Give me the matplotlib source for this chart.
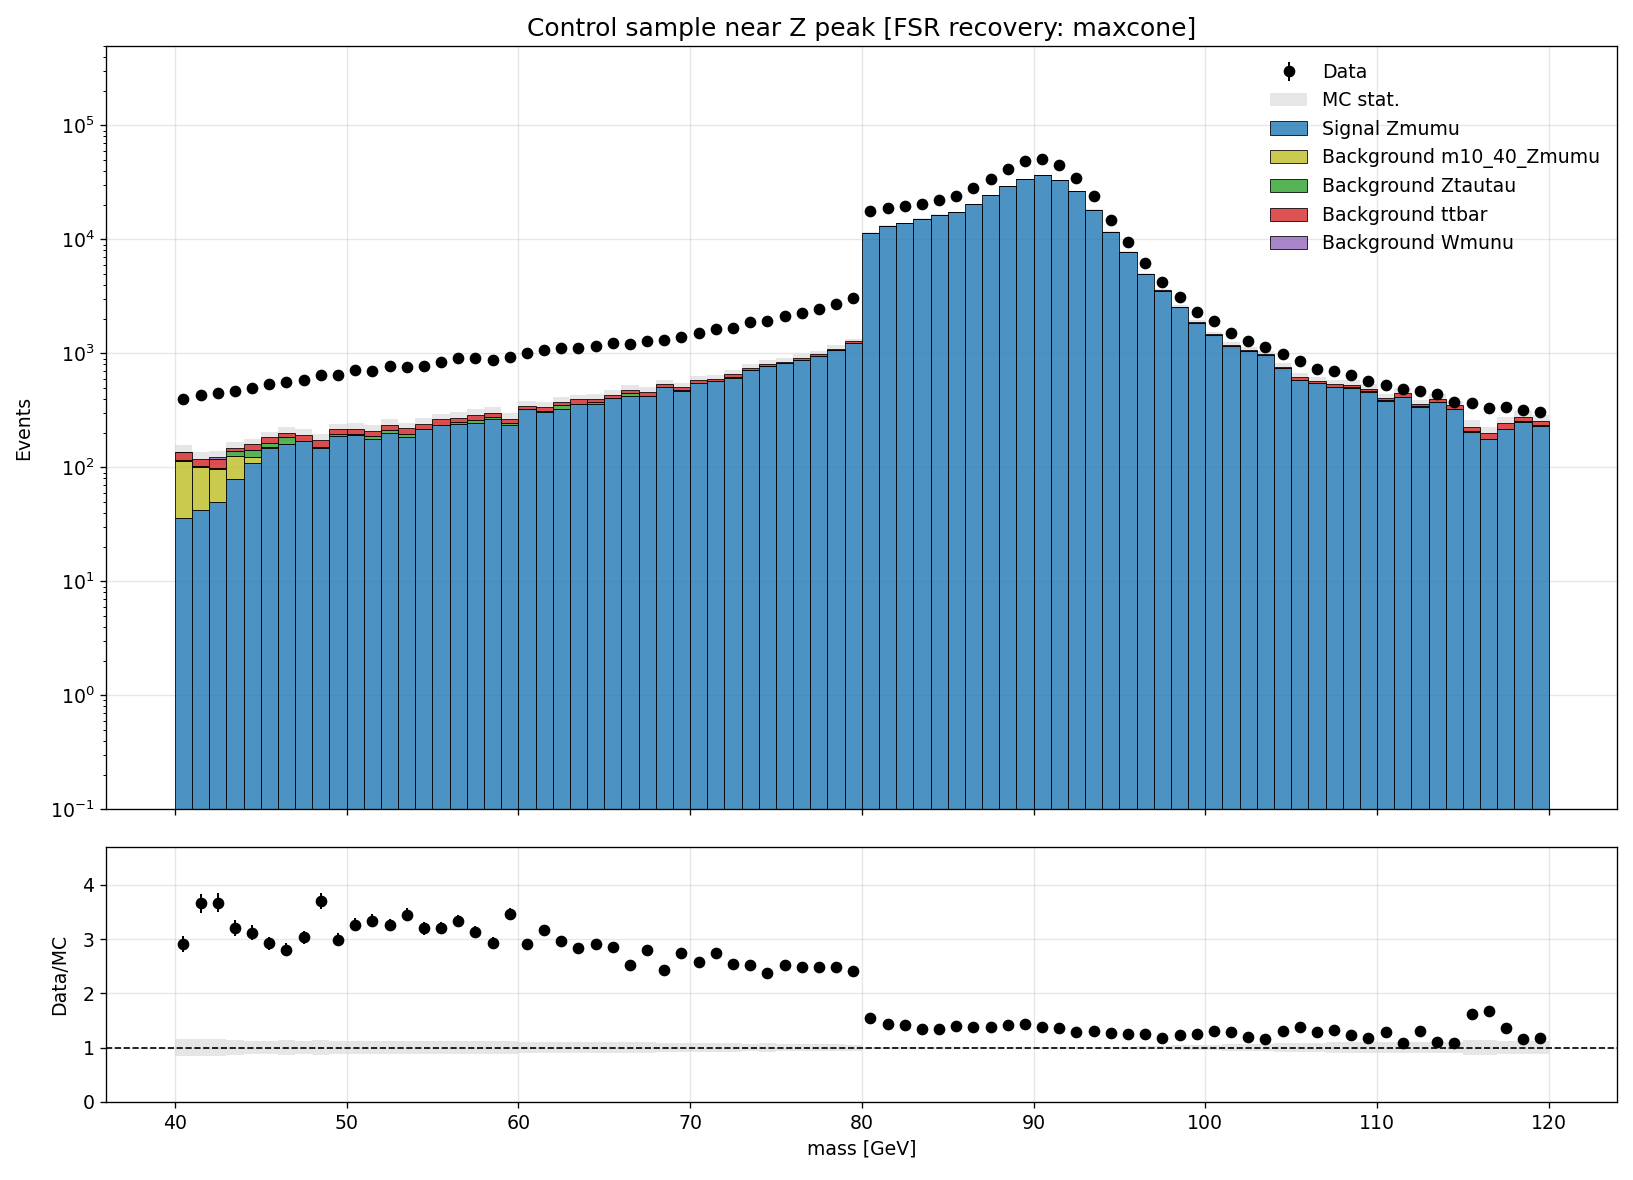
import numpy as np
import matplotlib
matplotlib.use('Agg')
import matplotlib.pyplot as plt
from matplotlib.patches import Patch

plt.rcParams['font.size'] = 11.3

# binning: 1 GeV bins from 40 to 120
edges = np.arange(40, 121, 1)
centers = 0.5 * (edges[:-1] + edges[1:])

# observed events per bin
data = [398, 430, 448, 472, 496, 537, 560, 585, 645, 645,
        708, 698, 769, 759, 774, 841, 910, 910, 880, 929,
        1007, 1077, 1114, 1114, 1160, 1233, 1208, 1293, 1319, 1393,
        1511, 1638, 1671, 1887, 1921, 2130, 2279, 2455, 2735, 3068,
        17600, 18700, 19500, 20300, 22000, 24200, 28100, 33800, 41500, 48300,
        50400, 45200, 34400, 23800, 14900, 9570, 6200, 4200, 3130, 2325,
        1915, 1510, 1274, 1128, 996, 852, 733, 705, 652, 578,
        523, 489, 468, 441, 376, 366, 334, 336, 320, 303]

# MC samples (stacked in this order)
sig_zmumu = [35.6, 42.6, 49.2, 78.3, 110, 149, 159, 169, 147, 187,
             191, 176, 199, 184, 216, 234, 239, 244, 264, 233,
             324, 305, 328, 356, 356, 404, 422, 422, 502, 472,
             548, 571, 607, 713, 774, 822, 874, 947, 1062, 1233,
             11300, 13000, 13800, 15100, 16300, 17300, 20300, 24400, 29300, 33700,
             36600, 33000, 26500, 18200, 11650, 7680, 4940, 3555, 2535, 1855,
             1455, 1160, 1045, 962, 748, 587, 553, 510, 500, 461,
             385, 417, 341, 376, 327, 206, 178, 218, 252, 232]
bkg_m10_40 = [79, 58, 48, 46.7, 12.5, 2, 0.5, 0, 0, 0,
              0, 0, 0, 0, 0, 0, 0, 0, 0, 0,
              0, 0, 0, 0, 0, 0, 0, 0, 0, 0,
              0, 0, 0, 0, 0, 0, 0, 0, 0, 0,
              0, 0, 0, 0, 0, 0, 0, 0, 0, 0,
              0, 0, 0, 0, 0, 0, 0, 0, 0, 0,
              0, 0, 0, 0, 0, 0, 0, 0, 0, 0,
              0, 0, 0, 0, 0, 0, 0, 0, 0, 0]
bkg_ztautau = [0.5, 2, 1, 13, 18.5, 12, 25, 2, 3, 8,
               5, 14, 13, 11, 2, 3, 11, 18, 15, 13,
               2, 6, 21, 3, 20, 3, 26, 3, 3, 3,
               3, 3, 12, 3, 4, 3, 4, 3, 3, 3,
               4, 4, 5, 5, 5, 6, 6, 7, 8, 8,
               8, 8, 7, 6, 5, 4, 3, 3, 3, 2,
               2, 2, 2, 2, 2, 2, 2, 2, 2, 2,
               1, 1, 1, 1, 1, 1, 1, 1, 1, 1]
bkg_ttbar = [21, 15, 21, 9, 18, 21, 15, 22, 24, 21,
             21, 19, 24, 25, 24, 26, 23, 28, 21, 22,
             21, 29, 27, 35, 23, 26, 31, 36, 36, 34,
             36, 25, 40, 32, 33, 20, 38, 36, 34, 39,
             28, 26, 27, 25, 26, 24, 25, 27, 26, 24,
             25, 26, 24, 23, 25, 22, 24, 15, 14, 13,
             12, 13, 15, 16, 15, 28, 18, 24, 24, 25,
             18, 34, 16, 21, 21, 20, 21, 27, 23, 23]
bkg_wmunu = [0.5, 0, 3, 0, 0, 0, 0, 0, 0, 0,
             0, 0, 0, 0, 0, 0, 0, 0, 0, 0,
             0, 0, 0, 0, 0, 0, 0, 0, 0, 0,
             0, 0, 0, 0, 0, 0, 0, 0, 0, 0,
             0, 0, 0, 0, 0, 0, 0, 0, 0, 0,
             0, 0, 0, 0, 0, 0, 0, 0, 0, 0,
             0, 0, 0, 0, 0, 0, 0, 0, 0, 0,
             0, 0, 0, 0, 0, 0, 0, 0, 0, 0]

# relative MC statistical uncertainty per bin
mc_stat_rel = [0.16, 0.155, 0.15, 0.135, 0.12, 0.12, 0.138, 0.12, 0.138, 0.12,
               0.12, 0.12, 0.12, 0.12, 0.12, 0.12, 0.12, 0.12, 0.12, 0.12,
               0.10, 0.10, 0.10, 0.10, 0.10, 0.10, 0.10, 0.10, 0.083, 0.08,
               0.08, 0.08, 0.08, 0.07, 0.08, 0.068, 0.068, 0.068, 0.068, 0.055,
               0.02, 0.018, 0.016, 0.015, 0.014, 0.013, 0.012, 0.011, 0.01, 0.01,
               0.01, 0.01, 0.011, 0.013, 0.016, 0.02, 0.025, 0.03, 0.04, 0.045,
               0.05, 0.065, 0.065, 0.065, 0.08, 0.08, 0.08, 0.10, 0.10, 0.10,
               0.10, 0.10, 0.10, 0.10, 0.10, 0.138, 0.138, 0.12, 0.12, 0.12]

samples = [('Signal Zmumu', sig_zmumu, 'tab:blue'),
           ('Background m10_40_Zmumu', bkg_m10_40, 'tab:olive'),
           ('Background Ztautau', bkg_ztautau, 'tab:green'),
           ('Background ttbar', bkg_ttbar, 'tab:red'),
           ('Background Wmunu', bkg_wmunu, 'tab:purple')]

dpi = 120
fig = plt.figure(figsize=(1633 / dpi, 1180 / dpi), dpi=dpi)
ax = fig.add_axes([0.065, 0.3142, 0.9255, 0.647])
rax = fig.add_axes([0.065, 0.0662, 0.9255, 0.2162], sharex=ax)

ax.set_yscale('log')
data = np.array(data, dtype=float)
mc_rel = np.array(mc_stat_rel)

# stacked MC
bottom = np.zeros(len(centers))
handles = []
for name, vals, col in samples:
    vals = np.array(vals, dtype=float)
    m = vals > 0
    ax.bar(centers[m], vals[m], width=1.0, bottom=bottom[m], color=col, alpha=0.8,
           edgecolor='black', linewidth=0.6, zorder=2)
    handles.append(Patch(facecolor=col, alpha=0.8, edgecolor='black', linewidth=0.6, label=name))
    bottom += vals
mc_tot = bottom

# MC stat band
err = mc_tot * mc_rel
lo = np.append(mc_tot - err, (mc_tot - err)[-1])
hi = np.append(mc_tot + err, (mc_tot + err)[-1])
ax.fill_between(edges, lo, hi, step='post', color='lightgray', alpha=0.55, linewidth=0, zorder=1)

# data
data_h = ax.errorbar(centers, data, yerr=np.sqrt(data), fmt='o', color='black', ms=6, lw=1.2,
                     zorder=4, label='Data')

ax.set_ylim(0.1, 5e5)
ax.set_xlim(36, 124)
ax.set_ylabel('Events', labelpad=10)
ax.set_title('Control sample near Z peak [FSR recovery: maxcone]', fontsize=15)
ax.grid(True, alpha=0.3)
ax.set_axisbelow(True)
plt.setp(ax.get_xticklabels(), visible=False)

stat_h = Patch(facecolor='lightgray', alpha=0.55, linewidth=0, label='MC stat.')
ax.legend(handles=[data_h, stat_h] + handles, loc='upper right', frameon=False)

# ratio panel
ratio = data / mc_tot
ratio_err = np.sqrt(data) / mc_tot
rlo = np.append(1 - mc_rel, 1 - mc_rel[-1])
rhi = np.append(1 + mc_rel, 1 + mc_rel[-1])
rax.fill_between(edges, rlo, rhi, step='post', color='lightgray', alpha=0.55, linewidth=0, zorder=1)
rax.axhline(1.0, color='black', ls='--', lw=1, zorder=2)
rax.errorbar(centers, ratio, yerr=ratio_err, fmt='o', color='black', ms=6, lw=1.2, zorder=4)
rax.set_ylim(0, 4.7)
rax.set_yticks([0, 1, 2, 3, 4])
rax.set_ylabel('Data/MC', labelpad=8)
rax.set_xlabel('mass [GeV]')
rax.grid(True, alpha=0.3)
rax.set_axisbelow(True)

fig.savefig('out.png', dpi=dpi)
